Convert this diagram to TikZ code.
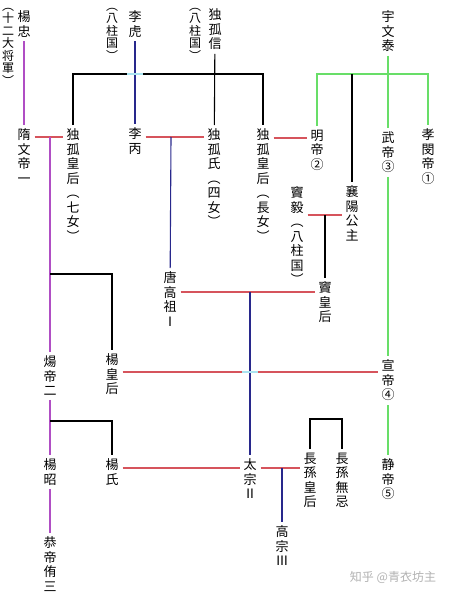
\documentclass[tikz,border=0pt]{standalone}
\usepackage{fontspec}
\newfontfamily\cjk{Noto Sans CJK JP}
\usetikzlibrary{positioning,calc}

\definecolor{marryred}{RGB}{214,84,92}
\definecolor{suipurple}{RGB}{176,78,196}
\definecolor{tangblue}{RGB}{40,40,140}
\definecolor{zhougreen}{RGB}{104,222,104}
\definecolor{crosscyan}{RGB}{170,228,240}

\newcommand\namefont{\cjk\fontsize{13}{14.5}\selectfont}
\newcommand\notefont{\cjk\fontsize{12}{12.5}\selectfont}

\tikzset{
  person/.style={font=\namefont, align=center, inner sep=0pt, outer sep=4pt, anchor=north},
  rank/.style={person, font=\notefont},
  kin/.style={line width=1.1pt},
  marryline/.style={kin, draw=marryred},
  suiline/.style={kin, draw=suipurple},
  tangline/.style={kin, draw=tangblue},
  zhouline/.style={line width=1.5pt, draw=zhougreen},
  crossline/.style={line width=1.6pt, draw=crosscyan},
}

\begin{document}
\begin{tikzpicture}[x=1pt,y=-1pt]
    \path[use as bounding box, fill=white] (0,0) rectangle (453,599);

    % top generation
    \node[person] (yangzhong) at (24,7) {楊\\忠};
    \node[rank] (yzrank) at (8,4) {︵\\十\\二\\大\\将\\軍\\︶};
    \node[person] (lihu) at (135,7) {李\\虎};
    \node[rank] (lhrank) at (112,4) {︵\\八\\柱\\国\\︶};
    \node[person] (dxin) at (215,5) {独\\孤\\信};
    \node[rank] (dxrank) at (195,4) {︵\\八\\柱\\国\\︶};
    \node[person] (yuwentai) at (388,7) {宇\\文\\泰};

    % second row
    \node[person] (suiwendi) at (24,125) {隋\\文\\帝\\一};
    \node[person] (dugu7) at (73,125) {独\\孤\\皇\\后\\︵\\七\\女\\︶};
    \node[person] (libing) at (135,124) {李\\丙};
    \node[person] (dugu4) at (214,125) {独\\孤\\氏\\︵\\四\\女\\︶};
    \node[person] (dugu1) at (263,125) {独\\孤\\皇\\后\\︵\\長\\女\\︶};
    \node[person] (mingdi) at (317,126) {明\\帝\\②};
    \node[person] (wudi) at (388,128) {武\\帝\\③};
    \node[person] (xiaomin) at (428,125) {孝\\閔\\帝\\①};
    \node[person] (douyi) at (297,183) {竇\\毅\\︵\\八\\柱\\国\\︶};
    \node[person] (xiangyang) at (352,182) {襄\\陽\\公\\主};

    % third row
    \node[person] (tanggaozu) at (170,268) {唐\\高\\祖\\Ⅰ};
    \node[person] (douhh) at (325,278) {竇\\皇\\后};
    \node[person] (yangdi) at (50,352) {煬\\帝\\二};
    \node[person] (yanghh) at (112,350) {楊\\皇\\后};
    \node[person] (xuandi) at (388,356) {宣\\帝\\④};

    % bottom rows
    \node[person] (yangzhao) at (50,455) {楊\\昭};
    \node[person] (yangshi) at (112,455) {楊\\氏};
    \node[person] (gongdi) at (50,533) {恭\\帝\\侑\\三};
    \node[person] (taizong) at (250,455) {太\\宗\\Ⅱ};
    \node[person] (zhangsunhh) at (310,449) {長\\孫\\皇\\后};
    \node[person] (wuji) at (342,449) {長\\孫\\無\\忌};
    \node[person] (jingdi) at (388,455) {静\\帝\\⑤};
    \node[person] (gaozong) at (282,522) {高\\宗\\Ⅲ};

    \node[font=\cjk\fontsize{12}{12}\selectfont, text=black!30] (mark) at (393,577) {知乎 @青衣坊主};

    % junctions
    \coordinate (m1) at (50,137);
    \coordinate (m2) at (171,137);
    \coordinate (m3) at (325,215);
    \coordinate (m4) at (250,292);
    \coordinate (m5) at (282,468);
    \coordinate (m6) at (250,372);
    \coordinate (m7) at (290,138);
    \coordinate (m8) at (180,468);
    \coordinate (c1) at (50,274);
    \coordinate (c2) at (50,421);
    \coordinate (c3) at (326,419);
    \coordinate (bar1) at (215,74);
    \coordinate (bar2) at (388,74);
    \coordinate (x1) at (135,74);

    % Sui line
    \draw[suiline] (yangzhong) -- (suiwendi);
    \draw[marryline] (suiwendi.east |- m1) -- (dugu7.west |- m1);
    \draw[suiline] (m1) -- (yangdi);
    \draw[suiline] (yangdi) -- (yangzhao);
    \draw[suiline] (yangzhao) -- (gongdi);
    \draw[kin] (c1) -| (yanghh);
    \draw[kin] (c2) -| (yangshi);

    % Dugu family
    \draw[kin] (dugu7) |- (bar1) -| (dugu1);
    \draw[kin] (dxin) -- (dugu4);
    \draw[tangline] (lihu) -- (libing);
    \draw[crossline] ([xshift=-8pt]x1) -- ([xshift=8pt]x1); % crossing
    \draw[marryline] (libing.east |- m2) -- (dugu4.west |- m2);
    \draw[tangline] (m2) -- (tanggaozu);
    \draw[marryline] (dugu1.east |- m7) -- (mingdi.west |- m7);

    % Yuwen family
    \draw[zhouline] (yuwentai) -- (wudi);
    \draw[zhouline] (mingdi) |- (bar2) -| (xiaomin);
    \draw[kin] (bar2 -| xiangyang) -- (xiangyang);
    \draw[zhouline] (wudi) -- (xuandi);
    \draw[zhouline] (xuandi) -- (jingdi);
    \draw[marryline] (douyi.east |- m3) -- (xiangyang.west |- m3);
    \draw[kin] (m3) -- (douhh);

    % Tang line
    \draw[marryline] (tanggaozu.east |- m4) -- (douhh.west |- m4);
    \draw[marryline] (yanghh.east |- m6) -- (xuandi.west |- m6);
    \draw[tangline] (m4) -- (taizong);
    \draw[crossline] ([xshift=-8pt]m6) -- ([xshift=8pt]m6); % crossing
    \draw[marryline] (yangshi.east |- m8) -- (taizong.west |- m8);
    \draw[marryline] (taizong.east |- m5) -- (zhangsunhh.west |- m5);
    \draw[tangline] (m5) -- (gaozong);
    \draw[kin] (zhangsunhh) |- (c3) -| (wuji);
\end{tikzpicture}
\end{document}
